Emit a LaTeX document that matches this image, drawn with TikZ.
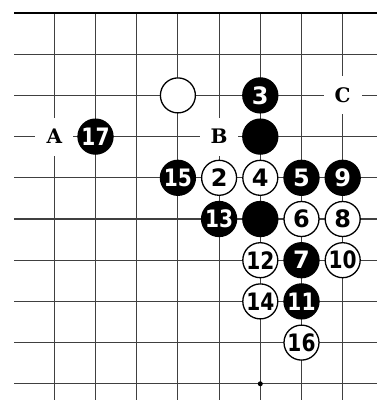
\documentclass[tikz,border=0pt]{standalone}
\usepackage{graphicx}
\usepackage{fontspec}
\newfontfamily\numfont{DejaVu Sans}[BoldFont={DejaVu Sans Bold}]
\newfontfamily\letfont{DejaVu Serif}[BoldFont={DejaVu Serif Bold}]
\newcommand{\twod}[1]{\scalebox{0.84}[1]{#1}}
\begin{document}
\begin{tikzpicture}[x=1pt,y=-1pt,
  gridline/.style={draw=black!75,line width=1.1pt},
  edgeline/.style={draw=black,line width=2.6pt},
  stone/.style={circle,minimum size=35pt,inner sep=0pt,line width=1.3pt,draw=black,
    font=\numfont\bfseries\fontsize{24}{24}\selectfont},
  bstone/.style={stone,fill=black,text=white},
  wstone/.style={stone,fill=white,text=black},
  letterlabel/.style={fill=white,minimum size=38pt,inner sep=0pt,
    font=\letfont\bfseries\fontsize{20}{20}\selectfont},
  hoshi/.style={circle,fill=black,inner sep=0pt,minimum size=5pt}]
\useasboundingbox (0,0) rectangle (377,400);
\fill[white] (0,0) rectangle (377,400);
% grid
\foreach \r in {1,...,9} {
  \draw[gridline] (14,{13+41.2*\r}) -- (377,{13+41.2*\r});
}
\foreach \c in {1,...,8} {
  \draw[gridline] ({13.1+41.2*\c},13) -- ({13.1+41.2*\c},400);
}
\draw[edgeline] (14,13) -- (377,13);
\node[hoshi] (h) at (260.3,383.8) {};
% labels
\node[letterlabel] (A) at (54.3,136.6) {A};
\node[letterlabel] (B) at (219.1,136.6) {B};
\node[letterlabel] (C) at (342.7,95.4) {C};
% stones
\node[wstone] (w0) at (177.9,95.4) {};
\node[bstone] (b3) at (260.3,95.4) {3};
\node[bstone] (b17) at (95.5,136.6) {\twod{17}};
\node[bstone] (b0a) at (260.3,136.6) {};
\node[bstone] (b15) at (177.9,177.8) {\twod{15}};
\node[wstone] (w2) at (219.1,177.8) {2};
\node[wstone] (w4) at (260.3,177.8) {4};
\node[bstone] (b5) at (301.5,177.8) {5};
\node[bstone] (b9) at (342.7,177.8) {9};
\node[bstone] (b13) at (219.1,219.0) {\twod{13}};
\node[bstone] (b0b) at (260.3,219.0) {};
\node[wstone] (w6) at (301.5,219.0) {6};
\node[wstone] (w8) at (342.7,219.0) {8};
\node[wstone] (w12) at (260.3,260.2) {\twod{12}};
\node[bstone] (b7) at (301.5,260.2) {7};
\node[wstone] (w10) at (342.7,260.2) {\twod{10}};
\node[wstone] (w14) at (260.3,301.4) {\twod{14}};
\node[bstone] (b11) at (301.5,301.4) {\twod{11}};
\node[wstone] (w16) at (301.5,342.6) {\twod{16}};
\end{tikzpicture}
\end{document}
